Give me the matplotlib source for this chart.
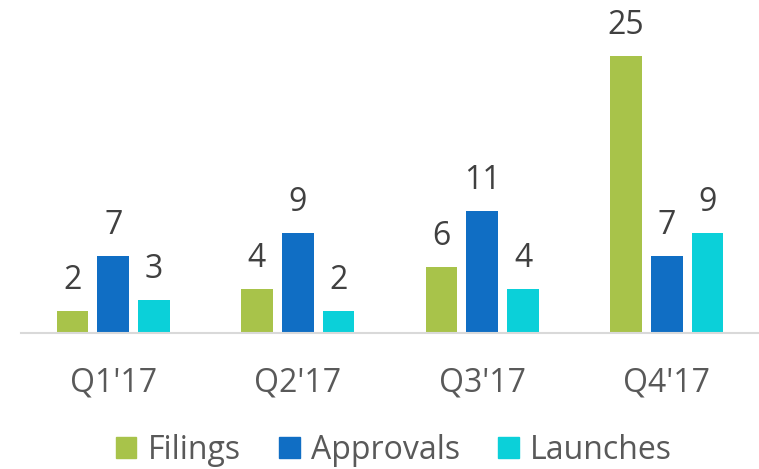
import matplotlib
matplotlib.use("Agg")
import matplotlib.pyplot as plt
import numpy as np
from matplotlib.patches import Patch

categories = ["Q1'17", "Q2'17", "Q3'17", "Q4'17"]
series_names = ["Filings", "Approvals", "Launches"]
filings = [2, 4, 6, 25]
approvals = [7, 9, 11, 7]
launches = [3, 2, 4, 9]
colors = ["#A8C34A", "#106EC4", "#0BD0D9"]

plt.rcParams['font.family'] = ['Open Sans', 'DejaVu Sans']

fig = plt.figure(figsize=(7.59, 4.69), dpi=100)
ax = fig.add_axes([21/759, 136/469, 738/759, 310/469])

x = np.arange(len(categories))
width = 0.172
step = 0.221
for i, (vals, name, c) in enumerate(zip([filings, approvals, launches], series_names, colors)):
    pos = x + (i - 1) * step
    ax.bar(pos, vals, width=width, color=c, label=name)
    for p, v in zip(pos, vals):
        ax.annotate(str(v), (p, v), xytext=(0, 10), textcoords='offset points',
                    ha='center', va='bottom', fontsize=23, color='#404040')

ax.set_xlim(-0.5, 3.5)
ax.set_ylim(0, 28)
ax.set_yticks([])
for s in ['top', 'right', 'left']:
    ax.spines[s].set_visible(False)
ax.spines['bottom'].set_color('#D9D9D9')
ax.spines['bottom'].set_linewidth(1.5)
ax.set_xticks(x)
ax.set_xticklabels(categories, fontsize=23, color='#595959')
ax.tick_params(axis='x', length=0, pad=24)

handles = [Patch(color=c, label=n) for c, n in zip(colors, series_names)]
fig.legend(handles=handles, loc='center', bbox_to_anchor=(0.519, 19/469), ncol=3,
           frameon=False, fontsize=23, labelcolor='#595959', handlelength=0.65, handleheight=0.65,
           handletextpad=0.35, columnspacing=1.2, borderpad=0)

fig.savefig("out.png", dpi=100)
